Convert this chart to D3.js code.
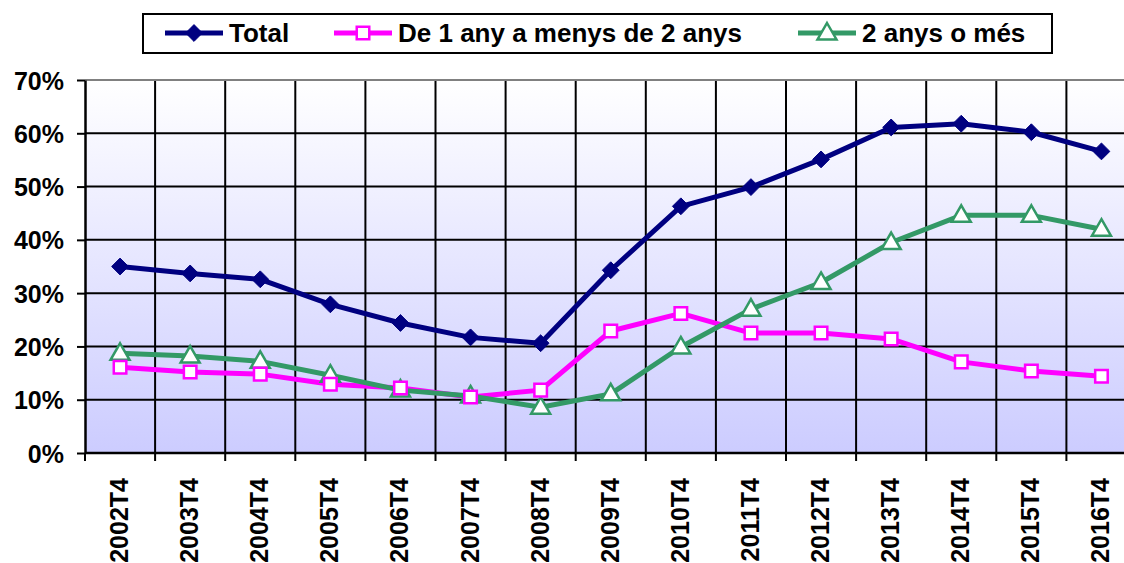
<!DOCTYPE html>
<html>
<head>
<meta charset="utf-8">
<script src="https://cdn.jsdelivr.net/npm/d3@7"></script>
<style>
  body { margin: 0; background: #fff; overflow: hidden; }
  text { font-family: Arial, "Liberation Sans", sans-serif; font-weight: bold; }
</style>
</head>
<body>
<div id="chart"></div>
<script>
// data
const periods = ["2002T4","2003T4","2004T4","2005T4","2006T4","2007T4","2008T4","2009T4","2010T4","2011T4","2012T4","2013T4","2014T4","2015T4","2016T4"]
const total = [35.0,33.7,32.6,27.9,24.4,21.7,20.6,34.3,46.3,49.9,55.1,61.1,61.8,60.2,56.6]
const unAny = [16.1,15.2,14.8,12.9,12.2,10.5,11.8,22.9,26.2,22.5,22.5,21.4,17.1,15.4,14.4]
const dosAnys = [18.7,18.2,17.2,14.6,11.8,10.7,8.6,11.1,19.9,27.0,32.0,39.5,44.6,44.6,42.0]
const yTicks = [0,10,20,30,40,50,60,70]
const seriesNames = ["Total","De 1 any a menys de 2 anys","2 anys o més"]

const series = [
  { name: seriesNames[0], values: total, color: "#000080", marker: "diamond" },
  { name: seriesNames[1], values: unAny, color: "#ff00ff", marker: "square" },
  { name: seriesNames[2], values: dosAnys, color: "#339966", marker: "triangle" },
]

const dimensions = {
  width: 1124,
  height: 563,
  margin: { top: 80, left: 85, bottom: 110 },
}
dimensions.boundedWidth = 70.1 * periods.length
dimensions.boundedHeight = dimensions.height - dimensions.margin.top - dimensions.margin.bottom

const wrapper = d3.select("#chart").append("svg")
  .attr("width", dimensions.width)
  .attr("height", dimensions.height)

const defs = wrapper.append("defs")
const grad = defs.append("linearGradient").attr("id", "bg")
  .attr("x1", 0).attr("y1", 0).attr("x2", 0).attr("y2", 1)
grad.append("stop").attr("offset", "0%").attr("stop-color", "#ffffff")
grad.append("stop").attr("offset", "100%").attr("stop-color", "#ccccff")

const bounds = wrapper.append("g")
  .attr("transform", `translate(${dimensions.margin.left},${dimensions.margin.top})`)

const xScale = d3.scaleBand()
  .domain(periods)
  .range([0, dimensions.boundedWidth])

const yScale = d3.scaleLinear()
  .domain([0, 70])
  .range([dimensions.boundedHeight, 0])

bounds.append("rect")
  .attr("width", dimensions.boundedWidth)
  .attr("height", dimensions.boundedHeight)
  .attr("fill", "url(#bg)")

// grid
bounds.append("g").selectAll("line")
  .data(yTicks.filter(d => d > 0 && d < 70))
  .join("line")
    .attr("x1", 0).attr("x2", dimensions.boundedWidth)
    .attr("y1", d => yScale(d)).attr("y2", d => yScale(d))
    .attr("stroke", "#000").attr("stroke-width", 2)

bounds.append("g").selectAll("line")
  .data(periods.slice(1))
  .join("line")
    .attr("x1", d => xScale(d)).attr("x2", d => xScale(d))
    .attr("y1", 0).attr("y2", dimensions.boundedHeight + 8)
    .attr("stroke", "#000").attr("stroke-width", 2)

bounds.append("line")
  .attr("x1", 0).attr("x2", dimensions.boundedWidth)
  .attr("y1", 0).attr("y2", 0)
  .attr("stroke", "#808080").attr("stroke-width", 2)

// y axis
const yAxis = bounds.append("g")
  .call(d3.axisLeft(yScale).tickValues(yTicks).tickFormat(d => d + "%").tickSize(8).tickSizeOuter(0))
yAxis.select(".domain").attr("stroke", "#000").attr("stroke-width", 2.5)
yAxis.selectAll(".tick line").attr("stroke", "#000").attr("stroke-width", 2)
yAxis.selectAll(".tick text")
  .attr("x", -21).attr("dy", "0.36em")
  .style("font-size", "25px").attr("fill", "#000")

// x axis
bounds.append("line")
  .attr("x1", 0).attr("x2", dimensions.boundedWidth)
  .attr("y1", dimensions.boundedHeight).attr("y2", dimensions.boundedHeight)
  .attr("stroke", "#000").attr("stroke-width", 2.5)
bounds.append("line")
  .attr("x1", 0).attr("x2", 0)
  .attr("y1", dimensions.boundedHeight).attr("y2", dimensions.boundedHeight + 8)
  .attr("stroke", "#000").attr("stroke-width", 2)

bounds.append("g").selectAll("text")
  .data(periods)
  .join("text")
    .attr("transform", d => `translate(${xScale(d) + xScale.bandwidth() / 2 + 8},${dimensions.boundedHeight + 25}) rotate(-90)`)
    .attr("text-anchor", "end")
    .style("font-size", "25px")
    .text(d => d)

// lines and markers
const cx = (d, i) => xScale(periods[i]) + xScale.bandwidth() / 2

const lineGenerator = d3.line()
  .x(cx)
  .y(d => yScale(d))

function markerPath(kind) {
  if (kind === "diamond") return d3.symbol(d3.symbolDiamond2, 180)()
  if (kind === "square") return d3.symbol(d3.symbolSquare2, 200)()
  return "M0,-10L9.5,6.5L-9.5,6.5Z"
}

function drawMarker(sel, s) {
  sel.attr("d", markerPath(s.marker))
  if (s.marker === "diamond") {
    sel.attr("fill", s.color).attr("stroke", s.color).attr("stroke-width", 1)
  } else {
    sel.attr("fill", "#fff").attr("stroke", s.color).attr("stroke-width", 2.5)
  }
}

series.forEach(s => {
  bounds.append("path")
    .attr("d", lineGenerator(s.values))
    .attr("fill", "none")
    .attr("stroke", s.color)
    .attr("stroke-width", 5)
    .attr("stroke-linejoin", "round")
})

series.slice().reverse().forEach(s => {
  bounds.append("g").selectAll("path")
    .data(s.values)
    .join("path")
      .attr("transform", (d, i) => `translate(${cx(d, i)},${yScale(d)})`)
      .call(drawMarker, s)
})

// legend
const legend = wrapper.append("g")
legend.append("rect")
  .attr("x", 143).attr("y", 14)
  .attr("width", 909).attr("height", 39)
  .attr("fill", "#fff").attr("stroke", "#000").attr("stroke-width", 2)

const legendX = [165, 334, 798]
series.forEach((s, i) => {
  const g = legend.append("g").attr("transform", `translate(${legendX[i]},33)`)
  g.append("line").attr("x1", 0).attr("x2", 58)
    .attr("stroke", s.color).attr("stroke-width", 5)
  g.append("path").attr("transform", "translate(29,0)").call(drawMarker, s)
  g.append("text").attr("x", 64).attr("dy", "0.36em")
    .style("font-size", "26px").text(s.name)
})
</script>
</body>
</html>
